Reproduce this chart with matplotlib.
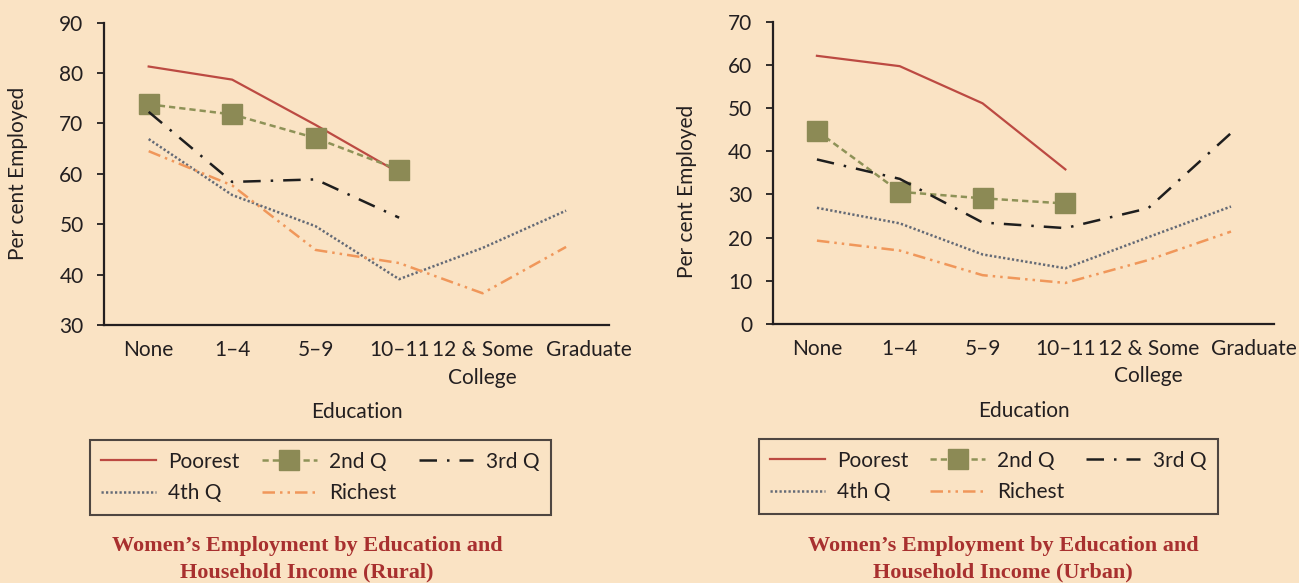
import numpy as np
import matplotlib
matplotlib.use("Agg")
import matplotlib.pyplot as plt
from matplotlib.transforms import ScaledTranslation

plt.rcParams['font.family'] = ['Lato', 'DejaVu Sans']

categories = ['None', '1–4', '5–9', '10–11', '12 & Some\nCollege', 'Graduate']
series_names = ['Poorest', '2nd Q', '3rd Q', '4th Q', 'Richest']

# rural (per cent employed), NaN = no data
rural_poorest = [81.3, 78.7, 69.7, 60.2, np.nan, np.nan]
rural_2nd = [73.8, 71.8, 67.1, 60.8, np.nan, np.nan]
rural_3rd = [72.3, 58.4, 58.9, 51.3, np.nan, np.nan]
rural_4th = [66.9, 55.8, 49.6, 39.1, 45.3, 52.7]
rural_richest = [64.5, 57.7, 44.9, 42.3, 36.3, 45.5]

# urban
urban_poorest = [62.1, 59.7, 51.1, 35.8, np.nan, np.nan]
urban_2nd = [44.7, 30.6, 29.1, 27.9, np.nan, np.nan]
urban_3rd = [38.1, 33.6, 23.5, 22.2, 26.8, 44.2]
urban_4th = [26.9, 23.3, 16.1, 12.9, 20.1, 27.2]
urban_richest = [19.3, 17.0, 11.3, 9.5, 14.8, 21.4]

bg = '#FAE3C4'
axis_col = '#231F20'
title_col = '#A8302F'

styles = [
    dict(color='#BC4A42', lw=1.6, ls='-'),
    dict(color='#8E9257', lw=1.8, ls=(0, (2.5, 1.6)), marker='s', ms=14,
         mfc='#8C8A55', mec='#8C8A55'),
    dict(color='#1E1E1E', lw=1.8, ls=(0, (7, 4, 1, 4))),
    dict(color='#646A76', lw=1.8, ls=(0, (0.9, 0.9))),
    dict(color='#F0975A', lw=1.8, ls=(0, (5, 2, 1, 2, 1, 2))),
]

fig = plt.figure(figsize=(12.99, 5.83), dpi=100, facecolor=bg)

panels = [
    dict(rect=[0.0804, 0.4425, 0.3888, 0.5186],
         data=[rural_poorest, rural_2nd, rural_3rd, rural_4th, rural_richest],
         ylim=(30, 90), yticks=np.arange(30, 91, 10), ylab_y=0.50,
         leg=(90 / 1299, 1 - 516 / 583, 461 / 1299, 77 / 583),
         title_x=307 / 1299, kind='Rural'),
    dict(rect=[0.5951, 0.4443, 0.3857, 0.5185],
         data=[urban_poorest, urban_2nd, urban_3rd, urban_4th, urban_richest],
         ylim=(0, 70), yticks=np.arange(0, 71, 10), ylab_y=0.44,
         leg=(759 / 1299, 1 - 515 / 583, 459 / 1299, 77 / 583),
         title_x=1003 / 1299, kind='Urban'),
]

x = np.arange(len(categories))

for p in panels:
    ax = fig.add_axes(p['rect'])
    ax.set_facecolor(bg)
    handles = []
    for name, vals, st in zip(series_names, p['data'], styles):
        h, = ax.plot(x, vals, label=name, clip_on=False, **st)
        handles.append(h)

    ax.set_xlim(-0.53, 5.52)
    ax.set_ylim(*p['ylim'])
    ax.set_yticks(p['yticks'])
    ax.set_xticks(x)
    ax.set_xticklabels(categories, fontsize=15, color=axis_col, linespacing=1.45)
    ax.tick_params(axis='x', length=0, pad=11)
    ax.tick_params(axis='y', length=5, width=1.3, colors=axis_col, labelsize=15, pad=10)
    # last label sits a little to the right in the original
    lab = ax.get_xticklabels()[-1]
    lab.set_transform(lab.get_transform() + ScaledTranslation(0.23, 0, fig.dpi_scale_trans))

    for s in ['top', 'right']:
        ax.spines[s].set_visible(False)
    for s in ['left', 'bottom']:
        ax.spines[s].set_color(axis_col)
        ax.spines[s].set_linewidth(1.6)

    ax.set_ylabel('Per cent Employed', fontsize=15, color=axis_col)
    ax.yaxis.set_label_coords(-0.152, p['ylab_y'])
    ax.set_xlabel('Education', fontsize=15, color=axis_col)
    ax.xaxis.set_label_coords(0.5, -0.255)

    order = [0, 3, 1, 4, 2]
    leg = fig.legend([handles[i] for i in order], [series_names[i] for i in order],
                     ncol=3, loc='center', bbox_to_anchor=p['leg'], mode='expand',
                     fontsize=15, frameon=True, fancybox=False, handlelength=2.6,
                     handletextpad=0.6, borderaxespad=0, labelspacing=0.55,
                     borderpad=0.55)
    leg.get_frame().set_edgecolor(axis_col)
    leg.get_frame().set_linewidth(1.5)
    leg.get_frame().set_facecolor('none')
    for t in leg.get_texts():
        t.set_color(axis_col)

    fig.text(p['title_x'], 1 - 559 / 583,
             'Women’s Employment by Education and\nHousehold Income (%s)' % p['kind'],
             ha='center', va='center', fontsize=16, fontweight='bold',
             family='Liberation Serif', color=title_col, linespacing=1.4)

fig.savefig('out.png', dpi=100, facecolor=bg)
